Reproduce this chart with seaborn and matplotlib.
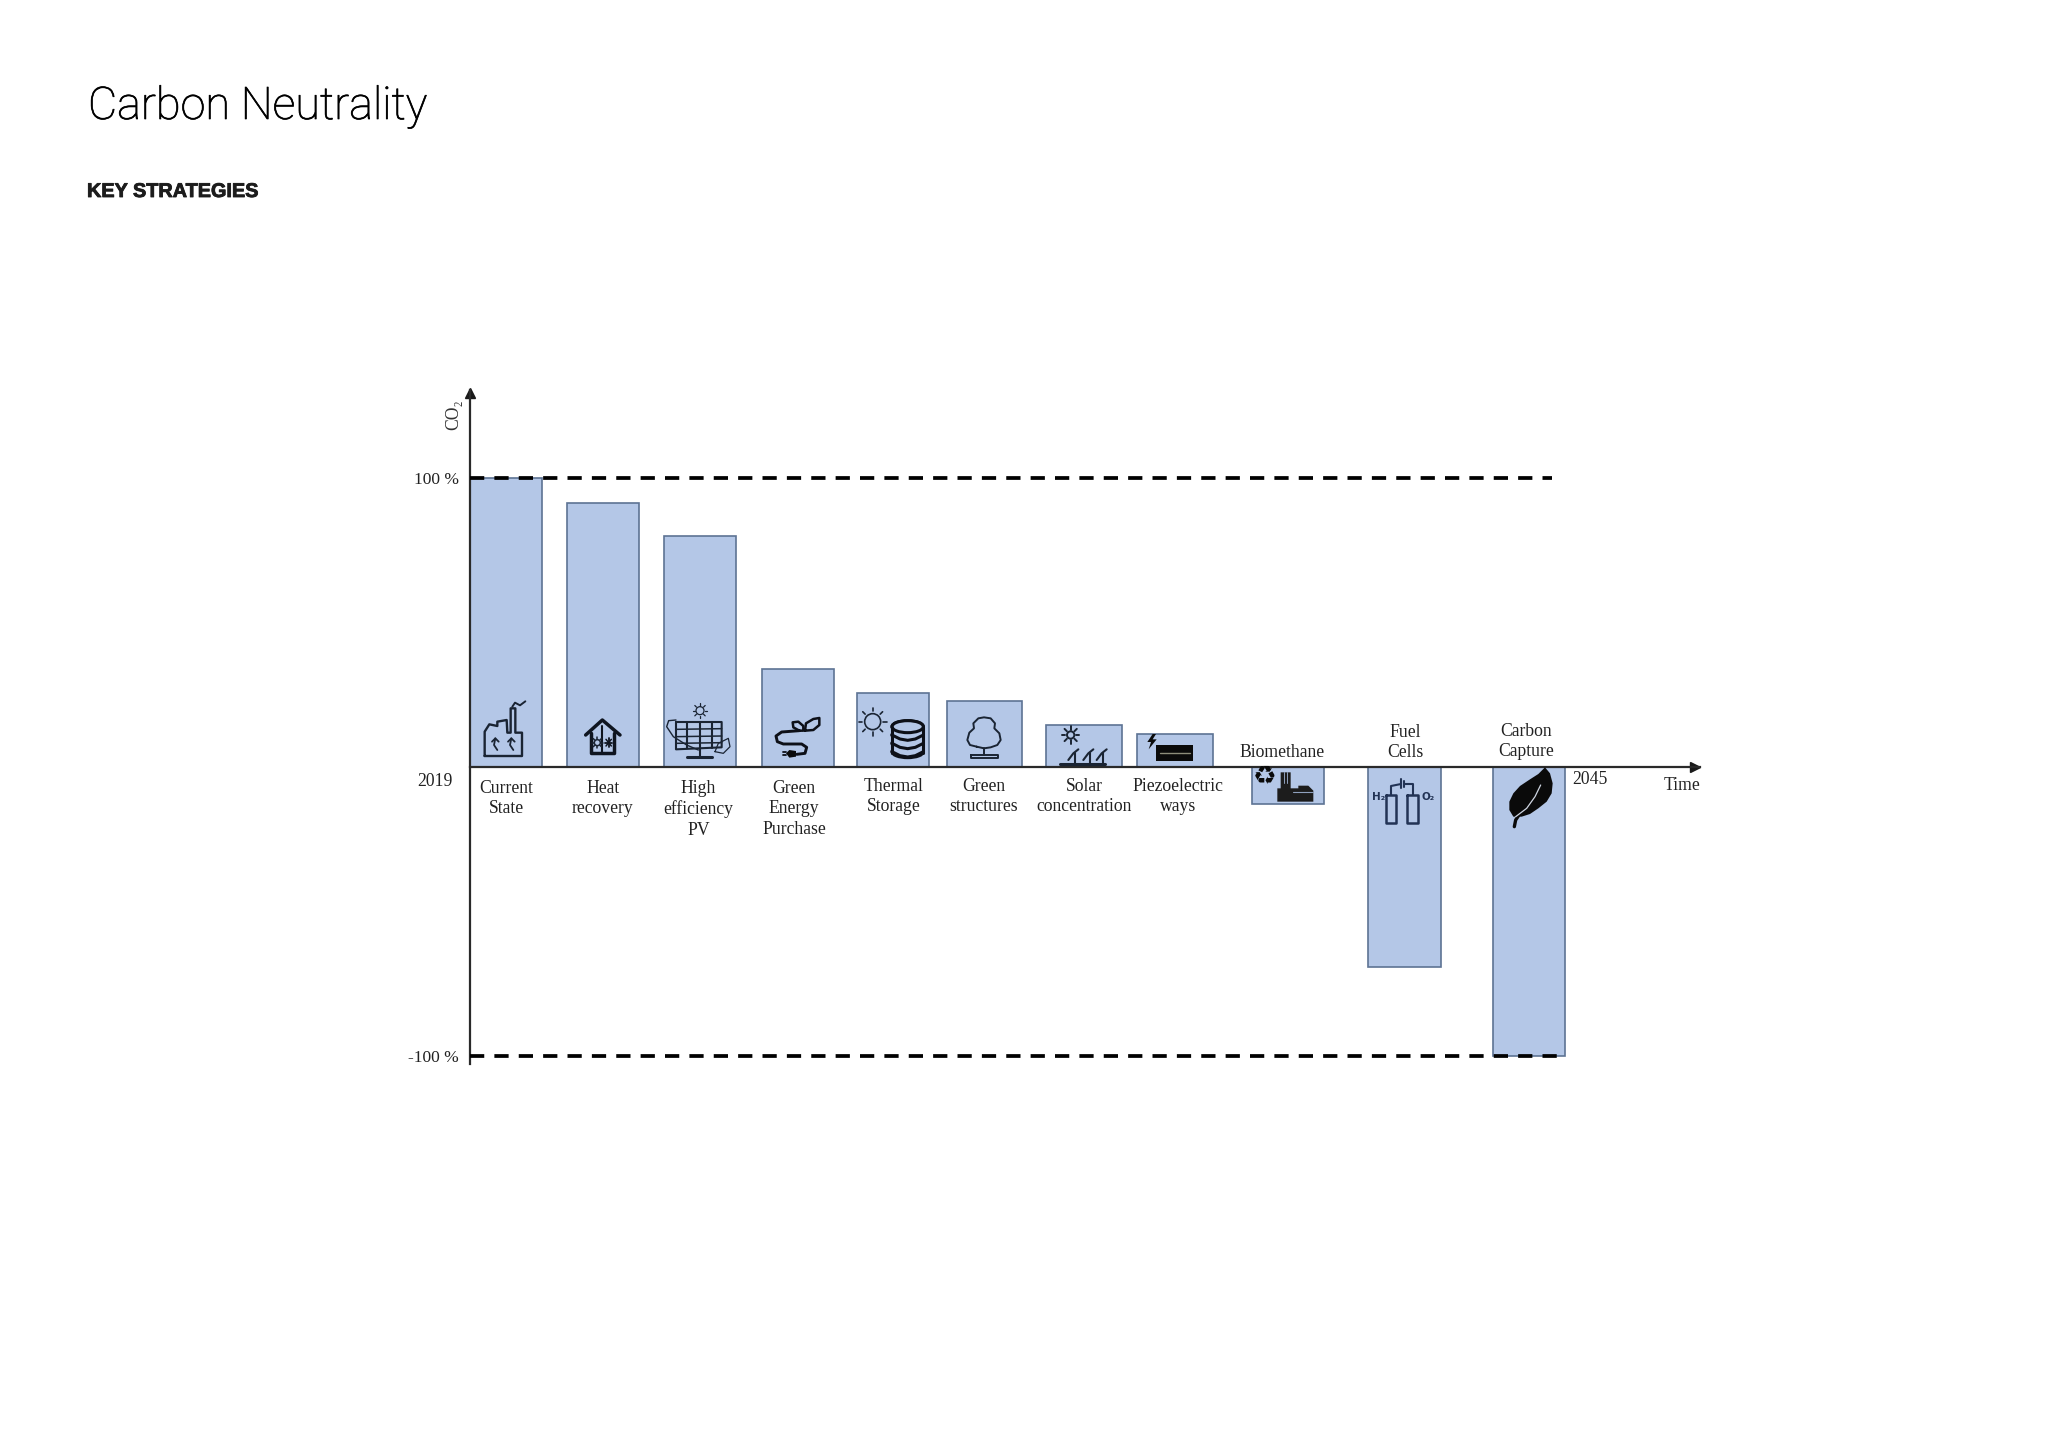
import numpy as np
import pandas as pd
import seaborn as sns
import matplotlib
matplotlib.use('Agg')
import matplotlib.pyplot as plt
import matplotlib.patheffects as pe
from matplotlib.patches import Circle, Ellipse, Polygon, Rectangle

sns.set_theme(style='white')
plt.rcParams['font.family'] = ['Liberation Serif', 'DejaVu Sans']

# data
strategies = ['Current\nState', 'Heat\nrecovery', 'High\nefficiency\nPV', 'Green\nEnergy\nPurchase',
              'Thermal\nStorage', 'Green\nstructures', 'Solar\nconcentration', 'Piezoelectric\nways',
              'Biomethane', 'Fuel\nCells', 'Carbon\nCapture']
co2_share = [100, 91.2, 79.8, 34.0, 25.8, 23.0, 14.5, 11.6, -12.8, -68.9, -100]
time_pos = [506, 603, 700, 798, 892.5, 984.5, 1084, 1175, 1288, 1404.5, 1529]
bar_widths = [72, 72, 72, 72, 72, 75, 76, 76, 72, 73, 72]
label_x = [506, 603, 698.5, 794, 893.5, 984, 1084, 1178, 1282, 1405.5, 1526]
label_y = [780, 780, 780, 780, 778, 778, 778, 778, 744, 724, 723]

W, H = 2048, 1448
fig = plt.figure(figsize=(W / 100, H / 100), dpi=100, facecolor='white')
ax = fig.add_axes([470 / W, 1 - 1064 / H, 1230 / W, 674 / H])

df = pd.DataFrame({'time': time_pos, 'co2': co2_share})
sns.barplot(data=df, x='time', y='co2', native_scale=True, color='#B4C7E7', saturation=1,
            edgecolor='#5d7394', linewidth=1.2, errorbar=None, ax=ax)
for bar, c, w in zip(ax.patches, time_pos, bar_widths):
    bar.set_x(c - w / 2)
    bar.set_width(w)

ax.set_xlim(470, 1700)
ax.set_ylim(-102.6, 130.4)
ax.set_xlabel('')
ax.set_ylabel('')
ax.set_facecolor('none')
ax.set_xticks([])
ax.set_yticks([100, -100], ['100 %', '-100 %'])
ax.tick_params(axis='y', length=0, pad=8, labelsize=12.5, labelcolor='#222222')
sns.despine(ax=ax)
ax.spines['bottom'].set_position(('data', 0))
for side in ['left', 'bottom']:
    ax.spines[side].set_linewidth(1.6)
    ax.spines[side].set_color('#2a2a2a')

ax.plot([470, 1552], [100, 100], color='black', lw=2.7, ls=(0, (3.8, 2.7)), zorder=4)
ax.plot([470, 1565], [-100, -100], color='black', lw=2.7, ls=(0, (3.8, 2.7)), zorder=4)
ax.plot(0.996, 0, '>', color='#1a1a1a', ms=7, transform=ax.get_yaxis_transform(), clip_on=False)
ax.plot(470, 0.995, '^', color='#1a1a1a', ms=7, transform=ax.get_xaxis_transform(), clip_on=False)

# overlay in page pixels for text and icons
deco = fig.add_axes([0, 0, 1, 1], facecolor='none')
deco.set_xlim(0, W)
deco.set_ylim(H, 0)
deco.axis('off')

deco.text(88, 119, 'Carbon Neutrality', family='Roboto', weight='light', fontsize=32.4, color='black', va='baseline',
          path_effects=[pe.withStroke(linewidth=0.5, foreground='black')])
deco.text(87, 197, 'KEY STRATEGIES', family='Liberation Sans', weight='bold', fontsize=14.3, color='#1c1c1c',
          va='baseline', path_effects=[pe.withStroke(linewidth=0.6, foreground='#1c1c1c')])

for lab, x, y in zip(strategies, label_x, label_y):
    deco.text(x, y, lab, ha='center', va='top', fontsize=12.7, linespacing=1.25, color='#222222')
deco.text(435, 781, '2019', ha='center', va='center', fontsize=12.7, color='#222222')
deco.text(1590, 779, '2045', ha='center', va='center', fontsize=12.7, color='#222222')
deco.text(1682, 785, 'Time', ha='center', va='center', fontsize=12.7, color='#222222')
deco.text(454, 415, 'CO₂', ha='center', va='center', rotation=90, fontsize=12.7, color='#333333')


# icons, points given in 3x crop coordinates from origin (ox, oy)
def ln(ox, oy, pts, lw=1.7, color='#1a2433'):
    p = np.array(pts, dtype=float) / 3 + [ox, oy]
    deco.plot(p[:, 0], p[:, 1], color=color, lw=lw, solid_capstyle='round', solid_joinstyle='round')


def fill(ox, oy, pts, color='#0a0a0a'):
    p = np.array(pts, dtype=float) / 3 + [ox, oy]
    deco.add_patch(Polygon(p, closed=True, fc=color, ec='none'))


def ring(ox, oy, x, y, r, lw=1.2, color='#1a2433'):
    deco.add_patch(Circle((ox + x / 3, oy + y / 3), r / 3, fc='none', ec=color, lw=lw))


def sun(ox, oy, x, y, r, r1, r2, lw=1.2):
    ring(ox, oy, x, y, r, lw)
    for a in np.arange(8) * np.pi / 4:
        ln(ox, oy, [(x + r1 * np.cos(a), y + r1 * np.sin(a)), (x + r2 * np.cos(a), y + r2 * np.sin(a))], lw)


# factory
o = (470, 690)
ln(*o, [(44, 198), (44, 125), (58, 103), (82, 108), (82, 95), (110, 90), (112, 128), (122, 128), (122, 55),
        (136, 55), (136, 128), (156, 128), (156, 198), (44, 198)])
ln(*o, [(127, 50), (135, 38), (150, 46), (166, 34)], 1.4)
ln(*o, [(82, 180), (72, 165), (76, 145)], 1.3)
ln(*o, [(66, 155), (76, 145), (86, 155)], 1.3)
ln(*o, [(130, 180), (120, 165), (124, 145)], 1.3)
ln(*o, [(114, 155), (124, 145), (134, 155)], 1.3)
# house
ln(*o, [(347, 135), (397, 90), (450, 135)], 2.5, '#0f1520')
ln(*o, [(362, 128), (362, 190), (432, 190), (432, 128)], 2.5, '#0f1520')
ln(*o, [(397, 108), (397, 190)], 1.5, '#0f1520')
sun(*o, 382, 158, 9, 11, 17, 1.1)
ln(*o, [(405, 158), (426, 158)], 1.3, '#0f1520')
ln(*o, [(416, 145), (416, 172)], 1.3, '#0f1520')
ln(*o, [(408, 148), (424, 168)], 1.1, '#0f1520')
ln(*o, [(424, 148), (408, 168)], 1.1, '#0f1520')
# pv panel
ln(*o, [(618, 96), (755, 96), (755, 172), (618, 178), (618, 96)], 1.5)
for x in [652, 690, 725]:
    ln(*o, [(x, 96), (x, 175)], 1.5)
for y in [118, 140, 160]:
    ln(*o, [(618, y), (755, y - 2)], 1.1)
sun(*o, 690, 62, 12, 15, 22, 0.9)
ln(*o, [(618, 90), (596, 92), (590, 110), (610, 140), (650, 165), (685, 180)], 1.0)
ln(*o, [(690, 178), (690, 200)], 1.5)
ln(*o, [(650, 200), (725, 200)], 2.2)
ln(*o, [(735, 185), (745, 160), (775, 145), (780, 170), (760, 190), (735, 185)], 0.9)

# plug and leaves
o = (760, 690)
ln(*o, [(118, 122), (65, 126), (48, 138), (52, 155), (70, 162), (125, 162), (140, 172), (135, 190), (110, 193)], 2.1, '#0d1018')
fill(*o, [(108, 183), (88, 180), (78, 190), (88, 203), (108, 200)])
ln(*o, [(78, 186), (68, 186)], 1.3, '#0d1018')
ln(*o, [(78, 196), (68, 196)], 1.3, '#0d1018')
ln(*o, [(118, 122), (100, 112), (98, 97), (115, 95), (130, 108), (130, 122), (118, 122)], 1.8, '#0d1018')
ln(*o, [(135, 122), (138, 100), (160, 87), (178, 84), (178, 105), (160, 120), (135, 122)], 1.8, '#0d1018')
# sun and storage
sun(*o, 338, 95, 24, 32, 42, 1.2)
for y in [110, 135, 160, 185]:
    deco.add_patch(Ellipse((o[0] + 443 / 3, o[1] + y / 3), 94 / 3, 36 / 3, fc='#B4C7E7', ec='#0d1018', lw=2.2))
deco.add_patch(Rectangle((o[0] + 398 / 3, o[1] + 112 / 3), 88 / 3, 70 / 3, fc='#B4C7E7', ec='none'))
ln(*o, [(396, 112), (396, 188)], 2.2, '#0d1018')
ln(*o, [(490, 112), (490, 188)], 2.2, '#0d1018')
deco.add_patch(Ellipse((o[0] + 443 / 3, o[1] + 110 / 3), 94 / 3, 36 / 3, fc='#B4C7E7', ec='#0d1018', lw=2.2))
for y in [135, 160, 185]:
    ln(*o, [(396, y), (420, y + 12), (443, y + 16), (466, y + 12), (490, y)], 2.2, '#0d1018')
# tree
ln(*o, [(650, 170), (630, 165), (622, 150), (628, 128), (642, 115), (640, 100), (655, 85), (672, 82), (692, 85),
        (705, 100), (703, 115), (718, 130), (722, 150), (712, 165), (692, 172), (672, 175), (650, 170)], 1.4)
ln(*o, [(672, 175), (672, 195)], 1.4)
ln(*o, [(632, 195), (715, 195), (715, 205), (632, 205), (632, 195)], 1.4)

# solar field
o = (1040, 720)
sun(*o, 92, 45, 11, 16, 26, 1.4)
ln(*o, [(60, 132), (195, 132)], 2.2)
for x in [85, 130, 170]:
    ln(*o, [(x, 120), (x + 15, 100), (x + 30, 88)], 1.5)
    ln(*o, [(x + 20, 98), (x + 20, 130)], 1.5)
# piezo road
deco.add_patch(Rectangle((o[0] + 347 / 3, o[1] + 75 / 3), 113 / 3, 47 / 3, fc='#0a0a0a', ec='none'))
ln(*o, [(360, 99), (450, 99)], 1.0, '#8d8d7a')
fill(*o, [(338, 42), (322, 66), (333, 66), (326, 88), (350, 58), (338, 58), (348, 42)])
# biomethane
deco.text(1040 + 675 / 3, 720 + 170 / 3, '♻', family='DejaVu Sans', fontsize=19, ha='center', va='center', color='#0a0a0a')
fill(*o, [(722, 157), (752, 157), (752, 205), (775, 205), (775, 197), (805, 197), (820, 212), (820, 245), (712, 245), (712, 205), (722, 205)], '#1c1c1c')
ln(*o, [(732, 157), (732, 190)], 0.7, '#8fa0bd')
ln(*o, [(742, 157), (742, 190)], 0.7, '#8fa0bd')
ln(*o, [(760, 215), (818, 215)], 0.8, '#8fa0bd')

# fuel cell
o = (1365, 760)
c = '#223355'
ln(*o, [(64, 104), (92, 104), (92, 190), (64, 190), (64, 104)], 1.8, c)
ln(*o, [(125, 104), (158, 104), (158, 190), (125, 190), (125, 104)], 1.8, c)
ln(*o, [(78, 104), (78, 78), (108, 72)], 1.5, c)
ln(*o, [(118, 72), (145, 72), (145, 104)], 1.5, c)
ln(*o, [(108, 58), (108, 85)], 1.5, c)
ln(*o, [(118, 63), (118, 80)], 1.5, c)
deco.text(1365 + 20 / 3, 760 + 112 / 3, 'H₂', family='DejaVu Sans', weight='bold', fontsize=7.5, va='center', color=c)
deco.text(1365 + 170 / 3, 760 + 112 / 3, 'O₂', family='DejaVu Sans', weight='bold', fontsize=7.5, va='center', color=c)
# leaf
fill(*o, [(540, 22), (555, 40), (563, 70), (560, 100), (545, 125), (520, 145), (495, 162), (470, 170), (445, 170),
          (433, 150), (433, 125), (445, 100), (465, 78), (495, 58), (520, 42)])
ln(*o, [(462, 165), (452, 180), (448, 200)], 2.4, '#0a0a0a')
ln(*o, [(527, 75), (510, 110), (485, 145), (452, 170)], 0.9, '#cfd6e2')

fig.savefig('out.png', dpi=100)
